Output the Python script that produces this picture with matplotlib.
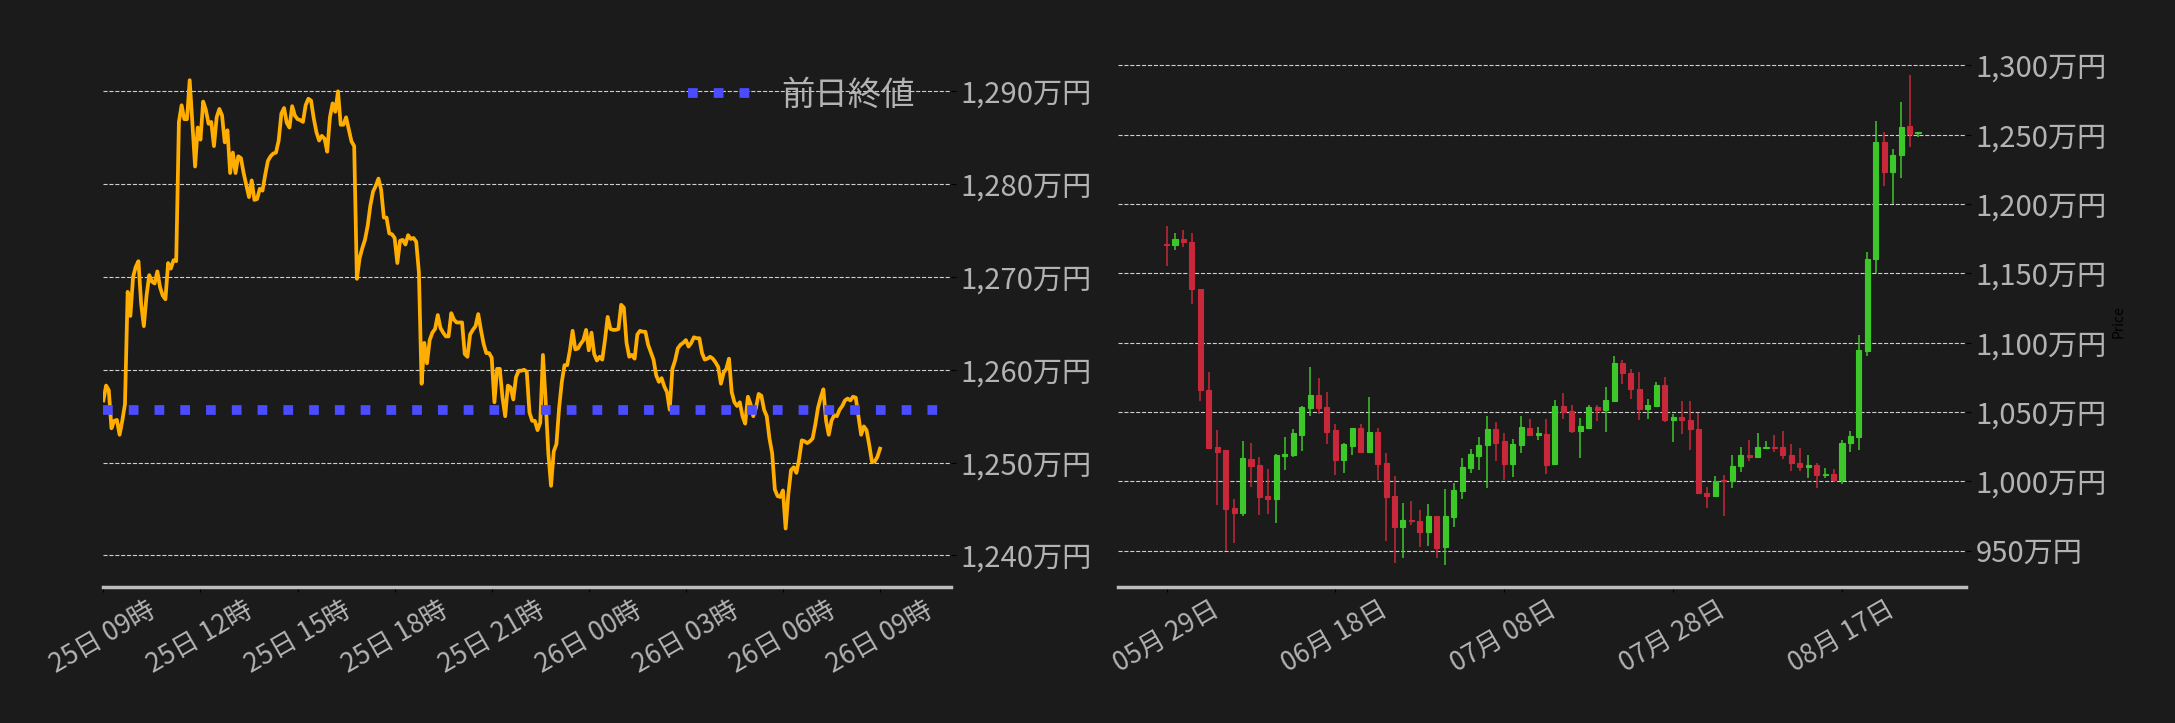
import matplotlib
matplotlib.use('Agg')
import matplotlib.pyplot as plt
import matplotlib.dates as mdates
import matplotlib.ticker as mticker
import pandas as pd

# ---------------- data ----------------
intraday_start = '2025-08-25 09:00'   # 5-minute samples
intraday_values = [
    1256.7, 1258.3, 1257.8, 1253.7, 1254.5, 1254.6, 1253.0, 1254.5, 1256.3, 1268.4,
    1265.8, 1270.0, 1271.1, 1271.7, 1267.1, 1264.7, 1268.0, 1270.2, 1269.5, 1269.3,
    1270.6, 1268.9, 1268.0, 1267.6, 1271.5, 1270.9, 1271.8, 1271.7, 1286.7, 1288.5,
    1287.0, 1287.0, 1291.2, 1286.5, 1281.9, 1286.1, 1284.8, 1288.9, 1288.0, 1286.5,
    1286.7, 1284.1, 1287.2, 1288.1, 1287.4, 1284.5, 1285.8, 1281.2, 1283.4, 1281.2,
    1283.0, 1282.8, 1281.2, 1279.9, 1278.6, 1280.4, 1278.3, 1278.4, 1279.5, 1279.3,
    1281.0, 1282.5, 1283.0, 1283.3, 1283.4, 1284.7, 1287.6, 1288.2, 1286.6, 1286.1,
    1288.4, 1287.4, 1287.0, 1286.9, 1286.7, 1288.5, 1289.2, 1289.0, 1287.1, 1285.6,
    1284.7, 1285.2, 1284.9, 1283.5, 1287.2, 1288.7, 1287.8, 1290.0, 1286.4, 1286.4,
    1287.2, 1285.9, 1284.6, 1284.1, 1269.8, 1272.0, 1273.1, 1274.0, 1275.5, 1277.7,
    1279.2, 1279.8, 1280.6, 1279.4, 1276.4, 1276.4, 1274.7, 1274.6, 1274.2, 1271.5,
    1273.9, 1274.0, 1273.5, 1274.5, 1274.1, 1274.2, 1273.8, 1270.5, 1258.5, 1262.9,
    1260.7, 1263.2, 1264.0, 1264.4, 1265.9, 1264.5, 1264.0, 1263.6, 1263.6, 1266.1,
    1265.4, 1265.1, 1265.1, 1265.1, 1261.7, 1261.4, 1263.8, 1264.3, 1264.7, 1266.0,
    1264.3, 1262.8, 1261.8, 1261.8, 1261.3, 1256.5, 1260.1, 1260.1, 1257.0, 1255.0,
    1258.3, 1258.1, 1256.8, 1259.2, 1259.9, 1259.9, 1260.0, 1259.8, 1255.4, 1254.5,
    1254.5, 1253.5, 1254.3, 1261.6, 1256.7, 1251.0, 1247.5, 1251.2, 1252.0, 1255.9,
    1258.7, 1260.5, 1260.5, 1262.1, 1264.2, 1262.2, 1262.3, 1262.8, 1263.2, 1264.3,
    1262.1, 1264.0, 1261.7, 1261.0, 1261.4, 1261.1, 1263.2, 1265.7, 1264.4, 1264.3,
    1264.3, 1264.4, 1267.0, 1266.7, 1262.9, 1261.4, 1261.6, 1261.2, 1263.8, 1264.2,
    1264.1, 1264.1, 1262.7, 1261.9, 1261.1, 1259.4, 1258.7, 1259.1, 1258.2, 1257.6,
    1255.7, 1260.1, 1261.0, 1262.3, 1262.7, 1262.9, 1263.2, 1262.5, 1262.9, 1263.5,
    1263.4, 1263.4, 1261.8, 1261.1, 1261.2, 1261.4, 1261.2, 1260.8, 1260.3, 1258.5,
    1259.7, 1260.1, 1261.2, 1257.6, 1256.5, 1256.1, 1256.5, 1255.0, 1254.2, 1257.1,
    1256.3, 1255.0, 1255.9, 1257.4, 1257.2, 1255.7, 1255.0, 1252.6, 1251.0, 1247.1,
    1246.4, 1246.3, 1247.0, 1242.9, 1246.6, 1249.2, 1249.5, 1248.9, 1250.4, 1252.4,
    1252.3, 1252.1, 1252.3, 1252.6, 1254.1, 1255.9, 1257.0, 1257.9, 1254.5, 1253.0,
    1254.5, 1255.1, 1255.0, 1255.7, 1256.1, 1256.7, 1256.9, 1256.7, 1257.1, 1257.0,
    1255.0, 1253.0, 1253.9, 1253.5, 1251.9, 1250.1, 1250.1, 1250.6, 1251.5,
]
prev_close = 1255.7
prev_close_label = '前日終値'

daily_start = '2025-05-29'
opens = [
    1171.4, 1170.2, 1175.0, 1172.9, 1139.0, 1066.2, 1024.4, 1022.3, 980.5, 977.1,
    1015.8, 1011.5, 989.1, 987.2, 1018.2, 1018.9, 1033.3, 1052.8, 1062.6, 1053.3,
    1036.7, 1015.3, 1025.4, 1038.1, 1021.1, 1035.3, 1012.9, 989.1, 967.0, 971.9,
    971.1, 963.4, 974.7, 952.6, 974.3, 993.0, 1009.6, 1018.2, 1025.9, 1037.4,
    1028.8, 1012.4, 1026.1, 1038.1, 1033.3, 1033.8, 1012.2, 1054.0, 1050.4, 1036.2,
    1038.1, 1053.3, 1051.2, 1057.9, 1085.5, 1078.3, 1066.9, 1052.0, 1054.5, 1069.6,
    1044.5, 1046.5, 1044.0, 1037.6, 991.7, 989.2, 1000.8, 1000.1, 1011.0, 1018.9,
    1017.9, 1024.2, 1024.7, 1024.7, 1018.9, 1013.5, 1010.5, 1011.8, 1004.3, 1005.6,
    1001.3, 1027.9, 1032.1, 1094.2, 1160.0, 1244.9, 1222.8, 1235.0, 1256.3, 1251.5,
]
highs = [
    1184.4, 1179.1, 1181.3, 1179.1, 1139.0, 1079.0, 1036.7, 1022.8, 987.5, 1029.0,
    1027.8, 1017.7, 1009.1, 1019.9, 1032.1, 1037.9, 1054.0, 1082.6, 1074.2, 1064.1,
    1041.0, 1027.3, 1038.6, 1041.7, 1060.9, 1038.1, 1020.1, 1003.6, 984.6, 985.6,
    979.1, 983.4, 974.7, 994.2, 998.8, 1016.5, 1023.5, 1032.1, 1047.3, 1042.5,
    1034.5, 1030.2, 1046.8, 1044.6, 1039.3, 1044.6, 1058.3, 1063.4, 1054.7, 1045.8,
    1055.2, 1054.7, 1068.1, 1090.5, 1087.7, 1081.0, 1078.8, 1059.4, 1071.8, 1075.3,
    1048.8, 1058.2, 1058.2, 1049.5, 995.9, 1003.8, 1004.3, 1018.9, 1024.7, 1029.6,
    1034.9, 1029.1, 1033.4, 1036.3, 1027.2, 1024.0, 1018.9, 1013.5, 1009.8, 1009.0,
    1029.6, 1036.3, 1105.4, 1165.4, 1259.8, 1251.8, 1239.4, 1273.4, 1293.0, 1252.2,
]
lows = [
    1155.1, 1166.9, 1168.8, 1127.7, 1057.8, 1024.0, 983.1, 950.0, 955.8, 975.2,
    996.1, 975.9, 976.7, 970.2, 1008.4, 1017.5, 1021.6, 1047.3, 1048.7, 1026.8,
    1004.5, 1006.2, 1019.2, 1021.1, 1021.1, 1000.7, 957.0, 941.4, 945.0, 968.7,
    952.6, 953.6, 945.0, 939.7, 967.0, 987.2, 1006.0, 1008.4, 995.4, 1014.6,
    1000.9, 1003.3, 1020.6, 1033.3, 1029.9, 1005.2, 1011.7, 1044.9, 1034.5, 1017.0,
    1037.7, 1043.4, 1035.4, 1056.9, 1069.9, 1059.4, 1044.5, 1045.3, 1053.7, 1042.8,
    1028.4, 1033.9, 1022.9, 990.9, 980.7, 989.2, 975.0, 995.1, 1006.8, 1014.3,
    1016.5, 1024.2, 1021.4, 1016.0, 1007.8, 1007.5, 1002.3, 994.9, 1002.3, 999.4,
    998.1, 1021.2, 1022.9, 1090.5, 1150.0, 1212.6, 1199.9, 1218.6, 1241.4, 1248.1,
]
closes = [
    1170.2, 1175.0, 1172.4, 1138.5, 1065.8, 1024.0, 1021.1, 980.0, 977.1, 1016.5,
    1011.0, 988.7, 987.2, 1018.7, 1019.4, 1034.5, 1053.3, 1062.6, 1052.8, 1035.5,
    1015.3, 1026.6, 1038.1, 1021.1, 1035.3, 1012.4, 988.7, 967.0, 971.9, 971.1,
    963.4, 974.7, 951.9, 974.7, 993.5, 1010.0, 1019.4, 1025.9, 1037.4, 1027.6,
    1012.4, 1026.6, 1038.9, 1033.3, 1034.5, 1011.7, 1054.0, 1049.9, 1036.2, 1039.6,
    1053.3, 1051.6, 1058.9, 1085.5, 1077.8, 1066.4, 1052.0, 1055.2, 1069.6, 1044.5,
    1046.5, 1044.0, 1037.6, 991.4, 989.2, 1000.1, 1000.1, 1011.0, 1018.9, 1017.9,
    1024.7, 1024.7, 1024.2, 1018.9, 1013.0, 1010.5, 1011.8, 1004.3, 1005.6, 1001.3,
    1027.9, 1032.9, 1094.9, 1160.5, 1244.9, 1222.8, 1235.5, 1255.6, 1250.1, 1252.0,
]
y_label_right = 'Price'

# ---------------- style ----------------
plt.rcParams['font.family'] = ['Noto Sans CJK JP', 'DejaVu Sans']
BG = '#1b1b1b'
TXT = '#b3b3b3'
ORANGE = '#ffad00'
BLUE = '#4b4bff'
UP = '#3cc828'
DOWN = '#c8283a'

fig = plt.figure(figsize=(21.75, 7.23), dpi=100, facecolor=BG)
ax1 = fig.add_axes([0.04754, 0.1881, 0.3895, 0.7331], facecolor=BG)
ax2 = fig.add_axes([0.5139, 0.1881, 0.3898, 0.7331], facecolor=BG)


def style_axes(ax, ystep):
    for side in ('top', 'left', 'right'):
        ax.spines[side].set_visible(False)
    ax.spines['bottom'].set_color('#bdbdbd')
    ax.spines['bottom'].set_linewidth(2.5)
    ax.yaxis.tick_right()
    ax.yaxis.set_major_locator(mticker.MultipleLocator(ystep))
    ax.yaxis.set_major_formatter(mticker.FuncFormatter(lambda v, p: f'{v:,.0f}万円'))
    ax.tick_params(axis='both', color='black', labelcolor=TXT)
    ax.tick_params(axis='y', labelsize=21)
    ax.tick_params(axis='x', labelsize=19)
    ax.set_axisbelow(True)
    ax.yaxis.grid(True, color='#cfcfcf', lw=0.8, ls='--')
    ax.xaxis.grid(False)


# ---------------- left: intraday line ----------------
times = pd.date_range(intraday_start, periods=len(intraday_values), freq='5min')
ax1.plot(times, intraday_values, color=ORANGE, lw=2.7, zorder=3)
ax1.axhline(prev_close, color=BLUE, lw=7, ls=':', label=prev_close_label, zorder=4)
t0 = pd.Timestamp(intraday_start)
ax1.set_xlim(t0, t0 + pd.Timedelta(hours=26.18))
ax1.set_ylim(1236.6, 1293.7)
style_axes(ax1, 10)
ax1.xaxis.set_major_locator(mdates.HourLocator(byhour=range(0, 24, 3)))
ax1.xaxis.set_major_formatter(mdates.DateFormatter('%d日 %H時'))
plt.setp(ax1.get_xticklabels(), rotation=30, ha='center')
ax1.legend(loc='upper right', bbox_to_anchor=(0.993, 1.018), frameon=False,
           fontsize=24, labelcolor=TXT)

# ---------------- right: daily candles ----------------
dates = pd.date_range(daily_start, periods=len(opens), freq='D')
colors = [UP if c >= o else DOWN for o, c in zip(opens, closes)]
bottoms = [min(o, c) for o, c in zip(opens, closes)]
heights = [abs(c - o) for o, c in zip(opens, closes)]
ax2.vlines(dates, lows, highs, colors=colors, lw=1.1, zorder=3)
ax2.bar(dates, heights, bottom=bottoms, width=0.6, color=colors,
        edgecolor=colors, linewidth=0.8, zorder=4)
d0 = pd.Timestamp(daily_start)
ax2.set_xlim(d0 - pd.Timedelta(days=5.78), d0 + pd.Timedelta(days=80 + 14.63))
ax2.set_ylim(923.8, 1306)
style_axes(ax2, 50)
ax2.set_xticks(pd.date_range(daily_start, periods=5, freq='20D'))
ax2.xaxis.set_major_formatter(mdates.DateFormatter('%m月 %d日'))
plt.setp(ax2.get_xticklabels(), rotation=30, ha='center')
ax2.yaxis.set_label_position('right')
ax2.set_ylabel(y_label_right, color='black', fontsize=10)

fig.savefig('out.png', dpi=100, facecolor=BG)
